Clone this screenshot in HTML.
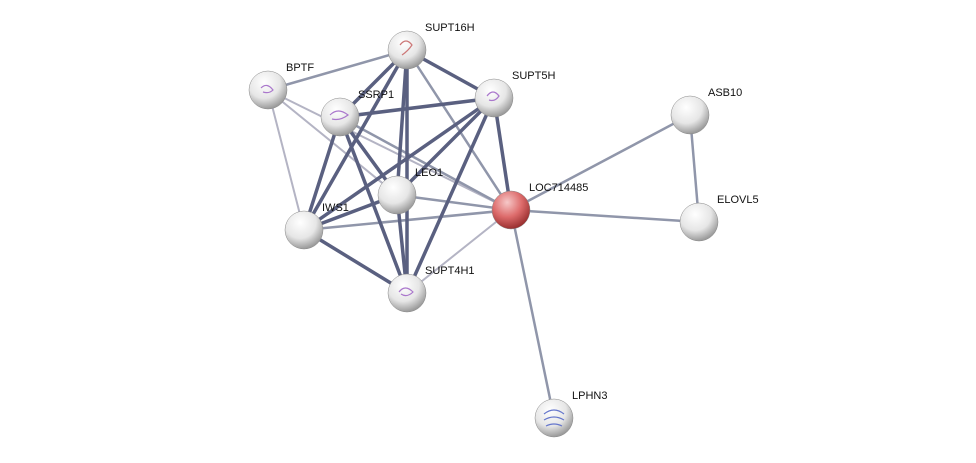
<!DOCTYPE html>
<html><head><meta charset="utf-8"><style>
html,body{margin:0;padding:0;background:#fff;}
svg{display:block;}
text{font-family:"Liberation Sans",sans-serif;font-size:11px;fill:#111;}
</style></head><body>
<svg width="976" height="463" viewBox="0 0 976 463" xmlns="http://www.w3.org/2000/svg">
<defs>
<radialGradient id="g" cx="40%" cy="30%" r="70%">
<stop offset="0" stop-color="#ffffff"/><stop offset="0.6" stop-color="#e6e6e6"/><stop offset="1" stop-color="#9a9a9a"/>
</radialGradient>
<radialGradient id="r" cx="40%" cy="30%" r="70%">
<stop offset="0" stop-color="#f6c8c8"/><stop offset="0.55" stop-color="#dd6b6b"/><stop offset="1" stop-color="#9a3030"/>
</radialGradient>
</defs>
<g stroke-linecap="round" fill="none">
<!-- light edges -->
<g stroke="#b4b4c4" stroke-width="2">
<line x1="268" y1="90" x2="304" y2="230"/>
<line x1="268" y1="90" x2="397" y2="195"/>
<line x1="268" y1="90" x2="511" y2="210"/>
<line x1="407" y1="293" x2="511" y2="210"/>
</g>
<g stroke="#9096aa" stroke-width="2.5">
<line x1="511" y1="210" x2="690" y2="115"/>
<line x1="511" y1="210" x2="699" y2="222"/>
<line x1="511" y1="210" x2="554" y2="418"/>
<line x1="690" y1="115" x2="699" y2="222"/>
<line x1="407" y1="50" x2="511" y2="210"/>
<line x1="340" y1="117" x2="511" y2="210"/>
<line x1="397" y1="195" x2="511" y2="210"/>
<line x1="304" y1="230" x2="511" y2="210"/>
<line x1="268" y1="90" x2="407" y2="50"/>
</g>
<g stroke="#5a6080" stroke-width="3.5">
<line x1="407" y1="50" x2="340" y2="117"/>
<line x1="407" y1="50" x2="494" y2="98"/>
<line x1="407" y1="50" x2="397" y2="195"/>
<line x1="407" y1="50" x2="304" y2="230"/>
<line x1="407" y1="50" x2="407" y2="293"/>
<line x1="340" y1="117" x2="494" y2="98"/>
<line x1="340" y1="117" x2="397" y2="195"/>
<line x1="340" y1="117" x2="304" y2="230"/>
<line x1="340" y1="117" x2="407" y2="293"/>
<line x1="494" y1="98" x2="397" y2="195"/>
<line x1="494" y1="98" x2="304" y2="230"/>
<line x1="494" y1="98" x2="407" y2="293"/>
<line x1="494" y1="98" x2="511" y2="210"/>
<line x1="397" y1="195" x2="304" y2="230"/>
<line x1="397" y1="195" x2="407" y2="293"/>
<line x1="304" y1="230" x2="407" y2="293"/>
</g>
</g>
<g stroke="#888" stroke-width="0.5">
<circle cx="407" cy="50" r="19" fill="url(#g)"/>
<circle cx="268" cy="90" r="19" fill="url(#g)"/>
<circle cx="340" cy="117" r="19" fill="url(#g)"/>
<circle cx="494" cy="98" r="19" fill="url(#g)"/>
<circle cx="690" cy="115" r="19" fill="url(#g)"/>
<circle cx="397" cy="195" r="19" fill="url(#g)"/>
<circle cx="699" cy="222" r="19" fill="url(#g)"/>
<circle cx="304" cy="230" r="19" fill="url(#g)"/>
<circle cx="407" cy="293" r="19" fill="url(#g)"/>
<circle cx="554" cy="418" r="19" fill="url(#g)"/>
<circle cx="511" cy="210" r="19" fill="url(#r)"/>
</g>
<g fill="none" stroke-width="1.2">
<path d="M400 45 q6 -8 12 0 q-4 6 -10 10" stroke="#c77"/>
<path d="M261 88 q6 -6 12 2 q-4 4 -10 2" stroke="#a7c"/>
<path d="M330 115 q8 -8 18 0 q-8 6 -16 4" stroke="#a7c"/>
<path d="M487 96 q6 -8 12 0 q-4 6 -10 4" stroke="#a7c"/>
<path d="M399 292 q6 -8 14 0 q-6 6 -12 2" stroke="#a7c"/>
<path d="M544 414 q10 -8 20 0 M544 420 q10 -6 20 0 M546 426 q8 -4 16 0" stroke="#67c"/>
</g>
<text x="425" y="31">SUPT16H</text>
<text x="286" y="71">BPTF</text>
<text x="358" y="98">SSRP1</text>
<text x="512" y="79">SUPT5H</text>
<text x="708" y="96">ASB10</text>
<text x="415" y="176">LEO1</text>
<text x="529" y="191">LOC714485</text>
<text x="717" y="203">ELOVL5</text>
<text x="322" y="211">IWS1</text>
<text x="425" y="274">SUPT4H1</text>
<text x="572" y="399">LPHN3</text>
</svg>
</body></html>
